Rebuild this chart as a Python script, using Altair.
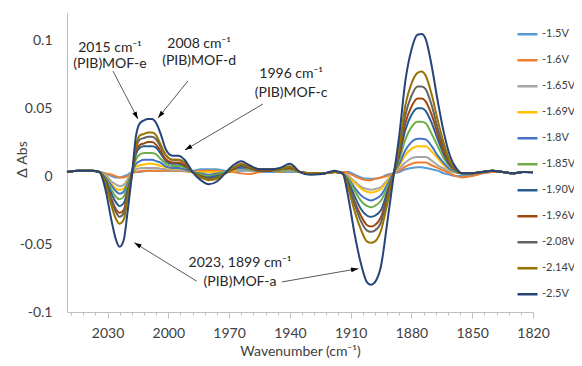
import math
import altair as alt
import pandas as pd

wavenumber = [2050, 2044, 2038, 2034, 2031, 2028, 2026, 2024, 2022, 2020,
              2018, 2016, 2014, 2012, 2010, 2008, 2006, 2004, 2001, 1998,
              1995, 1992, 1988, 1984, 1980, 1976, 1972, 1968, 1964, 1960,
              1955, 1950, 1945, 1940, 1935, 1930, 1924, 1918, 1914, 1911,
              1908, 1905, 1902, 1900, 1898, 1895, 1892, 1889, 1886, 1883,
              1880, 1877, 1875, 1873, 1870, 1867, 1864, 1861, 1858, 1855,
              1850, 1845, 1840, 1835, 1830, 1825, 1820]

labels = ["-1.5V", "-1.6V", "-1.65V", "-1.69V", "-1.8V", "-1.85V",
          "-1.90V", "-1.96V", "-2.08V", "-2.14V", "-2.5V"]
colors = ["#5B9BD5", "#ED7D31", "#A5A5A5", "#FFC000", "#4472C4", "#70AD47",
          "#255E91", "#9E480E", "#636363", "#997300", "#264478"]

v_15 = [0.003, 0.004, 0.004, 0.003, 0.002, 0.000, -0.001, -0.001, 0.000, 0.001,
        0.003, 0.003, 0.003, 0.0035, 0.004, 0.004, 0.004, 0.004, 0.004, 0.004,
        0.004, 0.004, 0.004, 0.005, 0.005, 0.005, 0.004, 0.004, 0.004, 0.004,
        0.003, 0.003, 0.003, 0.003, 0.003, 0.002, 0.002, 0.003, 0.003, 0.003,
        0.001, -0.001, -0.002, -0.002, -0.002, -0.001, 0.001, 0.002, 0.003, 0.005,
        0.006, 0.0065, 0.0065, 0.006, 0.005, 0.004, 0.002, 0.001, 0.000, 0.000,
        0.001, 0.002, 0.003, 0.003, 0.002, 0.003, 0.003]
v_16 = [0.003, 0.004, 0.004, 0.003, 0.002, 0.001, 0.000, -0.001, -0.001, 0.000,
        0.002, 0.003, 0.0035, 0.004, 0.004, 0.004, 0.004, 0.004, 0.004, 0.004,
        0.004, 0.0035, 0.003, 0.004, 0.004, 0.004, 0.003, 0.003, 0.002, 0.0015,
        0.003, 0.004, 0.003, 0.004, 0.003, 0.002, 0.002, 0.003, 0.003, 0.002,
        0.000, -0.002, -0.003, -0.003, -0.002, -0.001, 0.000, 0.002, 0.004, 0.007,
        0.009, 0.010, 0.010, 0.010, 0.008, 0.006, 0.004, 0.002, 0.000, -0.001,
        0.000, 0.002, 0.003, 0.003, 0.002, 0.003, 0.003]
v_165 = [0.003, 0.004, 0.004, 0.003, 0.001, -0.004, -0.006, -0.0075, -0.0065, -0.002,
         0.002, 0.005, 0.0058, 0.006, 0.006, 0.006, 0.006, 0.0055, 0.005, 0.0045,
         0.0045, 0.004, 0.003, 0.003, 0.003, 0.003, 0.003, 0.004, 0.005, 0.004,
         0.004, 0.004, 0.004, 0.004, 0.003, 0.002, 0.002, 0.003, 0.002, 0.000,
         -0.004, -0.0077, -0.0095, -0.010, -0.0095, -0.008, -0.003, 0.002, 0.0054, 0.010,
         0.013, 0.014, 0.014, 0.014, 0.0115, 0.008, 0.0056, 0.0035, 0.0025, 0.002,
         0.002, 0.003, 0.004, 0.003, 0.002, 0.003, 0.003]
v_169 = [0.003, 0.004, 0.004, 0.003, 0.000, -0.006, -0.009, -0.010, -0.009, -0.004,
         0.002, 0.007, 0.008, 0.0085, 0.009, 0.009, 0.0085, 0.0075, 0.0065, 0.0055,
         0.0055, 0.005, 0.003, 0.003, 0.003, 0.003, 0.003, 0.004, 0.006, 0.005,
         0.004, 0.004, 0.004, 0.005, 0.003, 0.002, 0.002, 0.003, 0.002, -0.001,
         -0.005, -0.009, -0.0115, -0.012, -0.0115, -0.0095, -0.004, 0.002, 0.0075, 0.0155,
         0.020, 0.022, 0.022, 0.022, 0.018, 0.013, 0.008, 0.0045, 0.003, 0.002,
         0.002, 0.003, 0.004, 0.003, 0.002, 0.003, 0.003]
v_18 = [0.003, 0.004, 0.004, 0.003, -0.001, -0.007, -0.011, -0.013, -0.0115, -0.005,
        0.002, 0.009, 0.011, 0.012, 0.012, 0.012, 0.011, 0.010, 0.007, 0.006,
        0.006, 0.005, 0.003, 0.002, 0.001, 0.002, 0.003, 0.005, 0.006, 0.005,
        0.004, 0.004, 0.004, 0.005, 0.003, 0.002, 0.002, 0.003, 0.002, -0.002,
        -0.0085, -0.014, -0.017, -0.018, -0.017, -0.014, -0.0065, 0.002, 0.009, 0.019,
        0.025, 0.0275, 0.0275, 0.027, 0.022, 0.015, 0.0095, 0.005, 0.003, 0.002,
        0.002, 0.003, 0.004, 0.003, 0.002, 0.003, 0.003]
v_185 = [0.003, 0.004, 0.004, 0.003, -0.002, -0.010, -0.015, -0.017, -0.015, -0.007,
         0.002, 0.012, 0.016, 0.017, 0.017, 0.017, 0.016, 0.013, 0.009, 0.0075,
         0.0075, 0.0065, 0.003, 0.001, 0.000, 0.001, 0.003, 0.005, 0.007, 0.005,
         0.004, 0.004, 0.004, 0.005, 0.003, 0.002, 0.002, 0.003, 0.002, -0.003,
         -0.011, -0.018, -0.022, -0.023, -0.022, -0.018, -0.009, 0.001, 0.012, 0.027,
         0.036, 0.040, 0.040, 0.039, 0.031, 0.022, 0.013, 0.007, 0.003, 0.002,
         0.002, 0.003, 0.004, 0.003, 0.002, 0.003, 0.003]
v_190 = [0.003, 0.004, 0.004, 0.003, -0.003, -0.013, -0.019, -0.022, -0.020, -0.010,
         0.002, 0.016, 0.021, 0.022, 0.022, 0.022, 0.021, 0.017, 0.011, 0.009,
         0.009, 0.0075, 0.003, 0.000, -0.001, 0.000, 0.002, 0.005, 0.007, 0.006,
         0.004, 0.004, 0.005, 0.006, 0.003, 0.002, 0.002, 0.003, 0.002, -0.005,
         -0.015, -0.024, -0.029, -0.030, -0.029, -0.025, -0.012, 0.001, 0.015, 0.034,
         0.045, 0.050, 0.050, 0.048, 0.039, 0.027, 0.016, 0.008, 0.004, 0.002,
         0.002, 0.003, 0.004, 0.003, 0.002, 0.003, 0.003]
v_196 = [0.003, 0.004, 0.004, 0.003, -0.004, -0.017, -0.024, -0.027, -0.025, -0.012,
         0.001, 0.018, 0.023, 0.024, 0.025, 0.025, 0.023, 0.019, 0.012, 0.010,
         0.010, 0.008, 0.003, 0.000, -0.002, -0.001, 0.002, 0.005, 0.008, 0.006,
         0.004, 0.004, 0.005, 0.006, 0.003, 0.002, 0.002, 0.003, 0.002, -0.007,
         -0.019, -0.029, -0.036, -0.037, -0.036, -0.030, -0.015, 0.001, 0.017, 0.039,
         0.051, 0.057, 0.057, 0.055, 0.045, 0.031, 0.018, 0.009, 0.004, 0.002,
         0.002, 0.003, 0.004, 0.003, 0.002, 0.003, 0.003]
v_208 = [0.003, 0.004, 0.004, 0.003, -0.005, -0.019, -0.026, -0.030, -0.027, -0.014,
         0.001, 0.020, 0.027, 0.028, 0.029, 0.029, 0.027, 0.022, 0.015, 0.012,
         0.012, 0.010, 0.003, -0.001, -0.002, -0.001, 0.002, 0.006, 0.008, 0.007,
         0.005, 0.005, 0.005, 0.007, 0.003, 0.002, 0.002, 0.003, 0.002, -0.008,
         -0.021, -0.033, -0.040, -0.041, -0.040, -0.034, -0.017, 0.000, 0.020, 0.045,
         0.059, 0.066, 0.066, 0.064, 0.052, 0.035, 0.021, 0.010, 0.004, 0.002,
         0.002, 0.003, 0.004, 0.003, 0.002, 0.003, 0.003]
v_214 = [0.003, 0.004, 0.004, 0.003, -0.006, -0.022, -0.031, -0.035, -0.032, -0.016,
         0.001, 0.022, 0.030, 0.031, 0.032, 0.032, 0.030, 0.024, 0.015, 0.012,
         0.012, 0.010, 0.003, -0.001, -0.003, -0.002, 0.002, 0.006, 0.009, 0.007,
         0.005, 0.005, 0.005, 0.007, 0.003, 0.002, 0.002, 0.003, 0.002, -0.010,
         -0.026, -0.039, -0.048, -0.049, -0.048, -0.040, -0.021, 0.000, 0.022, 0.052,
         0.068, 0.076, 0.077, 0.074, 0.060, 0.041, 0.024, 0.011, 0.005, 0.002,
         0.002, 0.003, 0.004, 0.003, 0.002, 0.003, 0.003]
v_25 = [0.003, 0.004, 0.004, 0.003, -0.010, -0.033, -0.046, -0.052, -0.047, -0.025,
        0.000, 0.029, 0.039, 0.041, 0.042, 0.042, 0.039, 0.032, 0.019, 0.015,
        0.015, 0.012, 0.003, -0.003, -0.006, -0.004, 0.002, 0.008, 0.011, 0.008,
        0.005, 0.005, 0.006, 0.009, 0.003, 0.001, 0.0015, 0.004, 0.002, -0.017,
        -0.043, -0.064, -0.078, -0.080, -0.078, -0.066, -0.035, -0.002, 0.030, 0.070,
        0.093, 0.104, 0.1045, 0.101, 0.081, 0.055, 0.032, 0.015, 0.006, 0.002,
        0.002, 0.003, 0.004, 0.003, 0.002, 0.003, 0.0025]

series_values = [v_15, v_16, v_165, v_169, v_18, v_185, v_190, v_196, v_208, v_214, v_25]

# Annotation texts and positions (data coordinates)
ann_text = ["2015 cm⁻¹", "(PIB)MOF-e", "2008 cm⁻¹", "(PIB)MOF-d",
            "1996 cm⁻¹", "(PIB)MOF-c", "2023, 1899 cm⁻¹", "(PIB)MOF-a"]
ann_w = [2028.8, 2028.8, 1984.8, 1984.8, 1939.4, 1939.4, 1964.6, 1964.6]
ann_v = [0.0943, 0.0825, 0.0972, 0.0847, 0.0751, 0.0611, -0.0639, -0.0780]

# Arrows: start (w1, v1) -> tip (w2, v2)
arrow_w1 = [2027.3, 1990.3, 1953.3, 1986.0, 1944.0]
arrow_v1 = [0.0773, 0.0700, 0.0530, -0.0773, -0.0779]
arrow_w2 = [2015.0, 2005.1, 1991.8, 2016.8, 1906.2]
arrow_v2 = [0.0420, 0.0427, 0.0192, -0.0490, -0.0681]

x_tick_values = list(range(1820, 2051, 6))
y_tick_values = [-0.1, -0.05, 0, 0.05, 0.1]

X_DOMAIN = [2050, 1820]
Y_DOMAIN = [-0.1, 0.12]
W, H = 466, 299

rows = []
for lab, vals in zip(labels, series_values):
    for w, v in zip(wavenumber, vals):
        rows.append({"series": lab, "w": w, "v": v})
df = pd.DataFrame(rows)

ann_df = pd.DataFrame({"text": ann_text, "w": ann_w, "v": ann_v})

sx = W / (X_DOMAIN[0] - X_DOMAIN[1])
sy = H / (Y_DOMAIN[1] - Y_DOMAIN[0])
angles = []
for w1, v1, w2, v2 in zip(arrow_w1, arrow_v1, arrow_w2, arrow_v2):
    dx = (w1 - w2) * sx
    dy = (v1 - v2) * sy
    angles.append(math.degrees(math.atan2(dx, -dy)) % 360)
arrow_df = pd.DataFrame({"w1": arrow_w1, "v1": arrow_v1, "w2": arrow_w2,
                         "v2": arrow_v2, "angle": angles})

x_scale = alt.Scale(domain=X_DOMAIN, nice=False, zero=False)
y_scale = alt.Scale(domain=Y_DOMAIN, nice=False, zero=False)

AX = "#BFBFBF"
TXT = "#404040"
X_TITLE = "Wavenumber (cm⁻¹)"
Y_TITLE = "Δ Abs"

x_axis = alt.Axis(
    values=x_tick_values,
    labelExpr="(datum.value - 1820) % 30 == 0 ? '' + datum.value : ''",
    tickSize={"condition": {"test": "(datum.value - 1820) % 30 == 0", "value": 6}, "value": 3},
    tickColor=AX, domainColor=AX, grid=False, labelFlush=False,
    labelFontSize=14, labelColor=TXT, labelFont="Lato", labelPadding=8,
    labelOverlap=False,
    titleFontSize=14, titleFont="Lato", titleColor=TXT, titleFontWeight="normal",
    titleX=W / 2, titleY=39, titleBaseline="middle",
)
y_axis = alt.Axis(
    values=y_tick_values, labelExpr="'' + datum.value", ticks=False,
    domainColor=AX, grid=False, labelFontSize=14, labelColor=TXT, labelFont="Lato",
    labelPadding=15,
    titleFontSize=14, titleFont="Lato", titleColor=TXT, titleFontWeight="normal",
    titleX=-45, titleY=146, titleAngle=270, titleBaseline="middle", titleAlign="center",
)


def xenc(field):
    return alt.X(field, scale=x_scale, axis=x_axis, title=X_TITLE)


def yenc(field):
    return alt.Y(field, scale=y_scale, axis=y_axis, title=Y_TITLE)


lines = alt.Chart(df).mark_line(strokeWidth=2, interpolate="monotone").encode(
    x=xenc("w:Q"),
    y=yenc("v:Q"),
    color=alt.Color(
        "series:N",
        scale=alt.Scale(domain=labels, range=colors),
        legend=alt.Legend(
            title=None, orient="none", legendX=449, legendY=8.4,
            symbolType="stroke", symbolSize=400, symbolStrokeWidth=2.5,
            labelFontSize=11, labelFont="Lato", labelColor=TXT,
            clipHeight=25.8, rowPadding=0, labelOffset=3, padding=0,
        ),
    ),
)

arrow_lines = alt.Chart(arrow_df).mark_rule(color="#595959", strokeWidth=1).encode(
    x=xenc("w1:Q"), y=yenc("v1:Q"), x2="w2:Q", y2="v2:Q",
)
arrow_heads = alt.Chart(arrow_df).mark_point(
    shape="M0,0L0.6,1.9L-0.6,1.9Z", filled=True, color="#000000", opacity=1, size=60
).encode(
    x=xenc("w2:Q"), y=yenc("v2:Q"),
    angle=alt.Angle("angle:Q", scale=None),
)
texts = alt.Chart(ann_df).mark_text(font="Lato", fontSize=14, color="#262626").encode(
    x=xenc("w:Q"), y=yenc("v:Q"), text="text:N",
)

chart = alt.layer(lines, arrow_lines, arrow_heads, texts).properties(
    width=W, height=H,
    autosize=alt.AutoSizeParams(type="none"),
    padding={"left": 59, "top": 5, "right": 41, "bottom": 46},
    background="white",
).configure_view(stroke=None)

chart.save("out.html", embed_options={"renderer": "svg", "actions": False})
